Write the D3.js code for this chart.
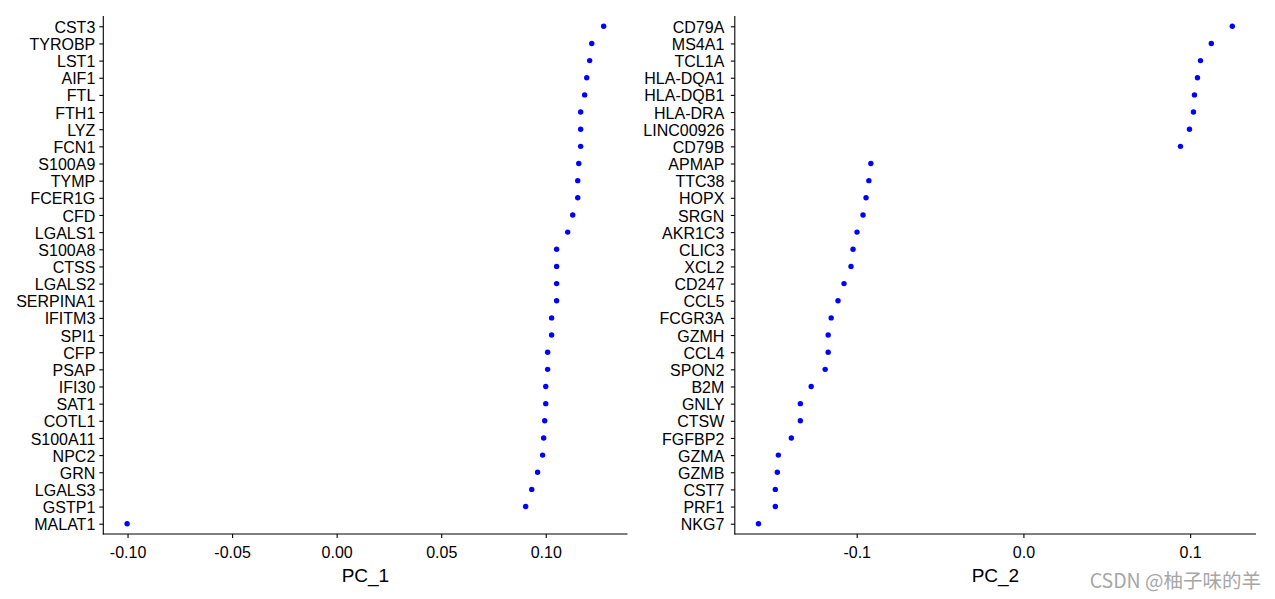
<!DOCTYPE html>
<html>
<head>
<meta charset="utf-8">
<script src="https://cdn.jsdelivr.net/npm/d3@7/dist/d3.min.js"></script>
<style>
  html, body { margin: 0; padding: 0; background: #fff; }
  svg { display: block; }
  text { font-family: "Liberation Sans", Arial, sans-serif; }
</style>
</head>
<body>
<svg id="chart" width="1275" height="599"></svg>
<script>
// ---- Data (top to bottom) ----
const pc1Genes = ["CST3","TYROBP","LST1","AIF1","FTL","FTH1","LYZ","FCN1","S100A9","TYMP",
  "FCER1G","CFD","LGALS1","S100A8","CTSS","LGALS2","SERPINA1","IFITM3","SPI1","CFP",
  "PSAP","IFI30","SAT1","COTL1","S100A11","NPC2","GRN","LGALS3","GSTP1","MALAT1"];
const pc1Values = [0.1277,0.1220,0.1210,0.1196,0.1186,0.1167,0.1167,0.1167,0.1158,0.1153,
  0.1153,0.1129,0.1105,0.1052,0.1052,0.1052,0.1052,0.1028,0.1028,0.1009,
  0.1009,0.1000,0.1000,0.0995,0.0990,0.0985,0.0961,0.0933,0.0904,-0.1002];

const pc2Genes = ["CD79A","MS4A1","TCL1A","HLA-DQA1","HLA-DQB1","HLA-DRA","LINC00926","CD79B","APMAP","TTC38",
  "HOPX","SRGN","AKR1C3","CLIC3","XCL2","CD247","CCL5","FCGR3A","GZMH","CCL4",
  "SPON2","B2M","GNLY","CTSW","FGFBP2","GZMA","GZMB","CST7","PRF1","NKG7"];
const pc2Values = [0.1253,0.1127,0.1062,0.1044,0.1026,0.1020,0.0996,0.0942,-0.0915,-0.0927,
  -0.0944,-0.0962,-0.0998,-0.1022,-0.1034,-0.1076,-0.1112,-0.1153,-0.1171,-0.1171,
  -0.1189,-0.1273,-0.1338,-0.1338,-0.1392,-0.1470,-0.1476,-0.1488,-0.1488,-0.1589];

const pc1Ticks = [-0.10,-0.05,0.00,0.05,0.10];
const pc1TickLabels = ["-0.10","-0.05","0.00","0.05","0.10"];
const pc2Ticks = [-0.1,0.0,0.1];
const pc2TickLabels = ["-0.1","0.0","0.1"];

const titles = ["PC_1","PC_2"];
const watermark = "CSDN @柚子味的羊";

// ---- Layout ----
const svg = d3.select("#chart");
const plotTop = 16, plotBottom = 534;
const panels = [
  {genes: pc1Genes, values: pc1Values, ticks: pc1Ticks, labels: pc1TickLabels, title: titles[0], x0: 103.3, x1: 627.5, pad: 4},
  {genes: pc2Genes, values: pc2Values, ticks: pc2Ticks, labels: pc2TickLabels, title: titles[1], x0: 734.8, x1: 1256, pad: 6.5}
];

panels.forEach(p => {
  const ext = d3.extent(p.values);
  const pad = (ext[1] - ext[0]) * 0.05;
  const x = d3.scaleLinear().domain([ext[0] - pad, ext[1] + pad]).range([p.x0, p.x1]);
  const n = p.genes.length;
  const unit = (plotBottom - plotTop) / (n - 1 + 1.2);
  const y = d3.scalePoint().domain(p.genes).range([plotTop + 0.6 * unit, plotBottom - 0.6 * unit]);

  const g = svg.append("g");

  g.selectAll("circle").data(p.genes).enter().append("circle")
    .attr("cx", (d, i) => x(p.values[i]))
    .attr("cy", d => y(d))
    .attr("r", 2.7)
    .attr("fill", "#0000ff");

  const yAxis = d3.axisLeft(y).tickSize(4).tickPadding(p.pad).tickSizeOuter(0);
  const ya = g.append("g").attr("transform", `translate(${p.x0},0)`).call(yAxis);
  ya.select(".domain").remove();
  ya.append("line").attr("x1", 0).attr("x2", 0).attr("y1", plotTop).attr("y2", plotBottom + 0.5)
    .attr("stroke", "#000").attr("stroke-width", 1.1);
  ya.selectAll(".tick line").attr("stroke", "#000").attr("stroke-width", 1.1);
  ya.selectAll(".tick text").attr("fill", "#000").attr("dy", "0.38em")
    .style("font-size", "16px").style("font-family", "'Liberation Sans', Arial, sans-serif");

  const xAxis = d3.axisBottom(x).tickValues(p.ticks).tickFormat((d, i) => p.labels[i])
    .tickSize(4).tickPadding(9).tickSizeOuter(0);
  const xa = g.append("g").attr("transform", `translate(0,${plotBottom})`).call(xAxis);
  xa.select(".domain").remove();
  xa.append("line").attr("x1", p.x0 - 0.5).attr("x2", p.x1).attr("y1", 0).attr("y2", 0)
    .attr("stroke", "#000").attr("stroke-width", 1.1);
  xa.selectAll(".tick line").attr("stroke", "#000").attr("stroke-width", 1.1);
  xa.selectAll(".tick text").attr("fill", "#000")
    .style("font-size", "16px").style("font-family", "'Liberation Sans', Arial, sans-serif");

  g.append("text")
    .attr("x", (p.x0 + p.x1) / 2)
    .attr("y", 582)
    .attr("text-anchor", "middle")
    .attr("fill", "#000")
    .style("font-size", "19px")
    .text(p.title);
});

svg.append("text")
  .attr("x", 1261)
  .attr("y", 588)
  .attr("text-anchor", "end")
  .attr("fill", "#a6a6a6")
  .style("font-family", "'Noto Sans CJK SC', 'Noto Sans', sans-serif")
  .style("font-size", "19.5px")
  .text(watermark);
</script>
</body>
</html>
